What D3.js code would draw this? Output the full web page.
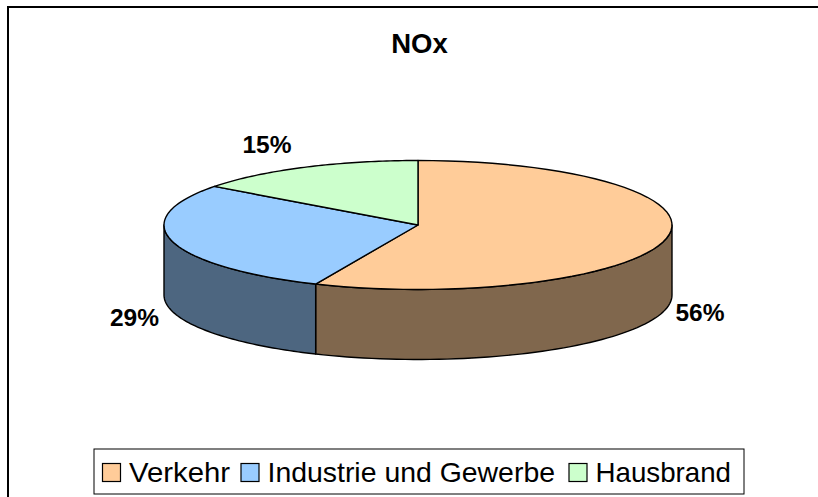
<!DOCTYPE html>
<html><head><meta charset="utf-8">
<script src="https://cdn.jsdelivr.net/npm/d3@7"></script>
<style>html,body{margin:0;padding:0;background:#fff}svg{display:block}text{font-family:"Liberation Sans",Arial,sans-serif;fill:#000}</style>
</head><body><div id="c"></div>
<script>
const categories = ["Verkehr", "Industrie und Gewerbe", "Hausbrand"];
const values = [56.6, 28.6, 14.8];
const dataLabels = ["56%", "29%", "15%"];
const topColors = ["#FFCC99", "#99CCFF", "#CCFFCC"];
const sideColors = ["#80674D", "#4D6680"];
const title = "NOx";

const W = 818, H = 497;
const svg = d3.select("#c").append("svg").attr("width", W).attr("height", H);
svg.append("path").attr("d", "M8,497V7H818").attr("fill", "none").attr("stroke", "#000").attr("stroke-width", 2);

const cx = 418, cy = 225, rx = 254, ry = 64.5, depth = 70;
const arcs = d3.pie().sort(null)(values);
const pt = (a, dy = 0) => [cx + rx * Math.sin(a), cy - ry * Math.cos(a) + dy];
const line = d3.line();
const samples = (a0, a1, dy) => d3.range(0, 61).map(i => pt(a0 + (a1 - a0) * i / 60, dy));

arcs.forEach((d, i) => {
  const a0 = Math.max(d.startAngle, Math.PI / 2), a1 = Math.min(d.endAngle, 3 * Math.PI / 2);
  if (a1 <= a0) return;
  const poly = samples(a0, a1, 0).concat(samples(a1, a0, depth));
  svg.append("path").attr("d", line(poly) + "Z")
    .attr("fill", sideColors[i]).attr("stroke", "#000").attr("stroke-width", 1.4).attr("stroke-linejoin", "round");
});
arcs.forEach((d, i) => {
  const poly = [[cx, cy]].concat(samples(d.startAngle, d.endAngle, 0));
  svg.append("path").attr("d", line(poly) + "Z")
    .attr("fill", topColors[i]).attr("stroke", "#000").attr("stroke-width", 1.4).attr("stroke-linejoin", "round");
});

svg.append("text").attr("x", 419.5).attr("y", 52.5).attr("text-anchor", "middle")
  .attr("font-size", 27.5).attr("font-weight", "bold").text(title);

const labelPos = [[700, 321], [134.5, 326], [267, 153]];
dataLabels.forEach((t, i) => svg.append("text").attr("x", labelPos[i][0]).attr("y", labelPos[i][1])
  .attr("text-anchor", "middle").attr("font-size", 24.5).attr("font-weight", "bold").text(t));

svg.append("rect").attr("x", 94).attr("y", 449).attr("width", 650).attr("height", 45)
  .attr("fill", "#fff").attr("stroke", "#000").attr("stroke-width", 1);
const swatchX = [102.5, 241, 569], textX = [129, 267.5, 595.5], textW = [101, 287.5, 135.5];
categories.forEach((c, i) => {
  svg.append("rect").attr("x", swatchX[i]).attr("y", 463.5).attr("width", 18).attr("height", 18)
    .attr("fill", topColors[i]).attr("stroke", "#000").attr("stroke-width", 1.2);
  svg.append("text").attr("x", textX[i]).attr("y", 482).attr("font-size", 28.5)
    .attr("textLength", textW[i]).attr("lengthAdjust", "spacingAndGlyphs").text(c);
});
</script></body></html>
